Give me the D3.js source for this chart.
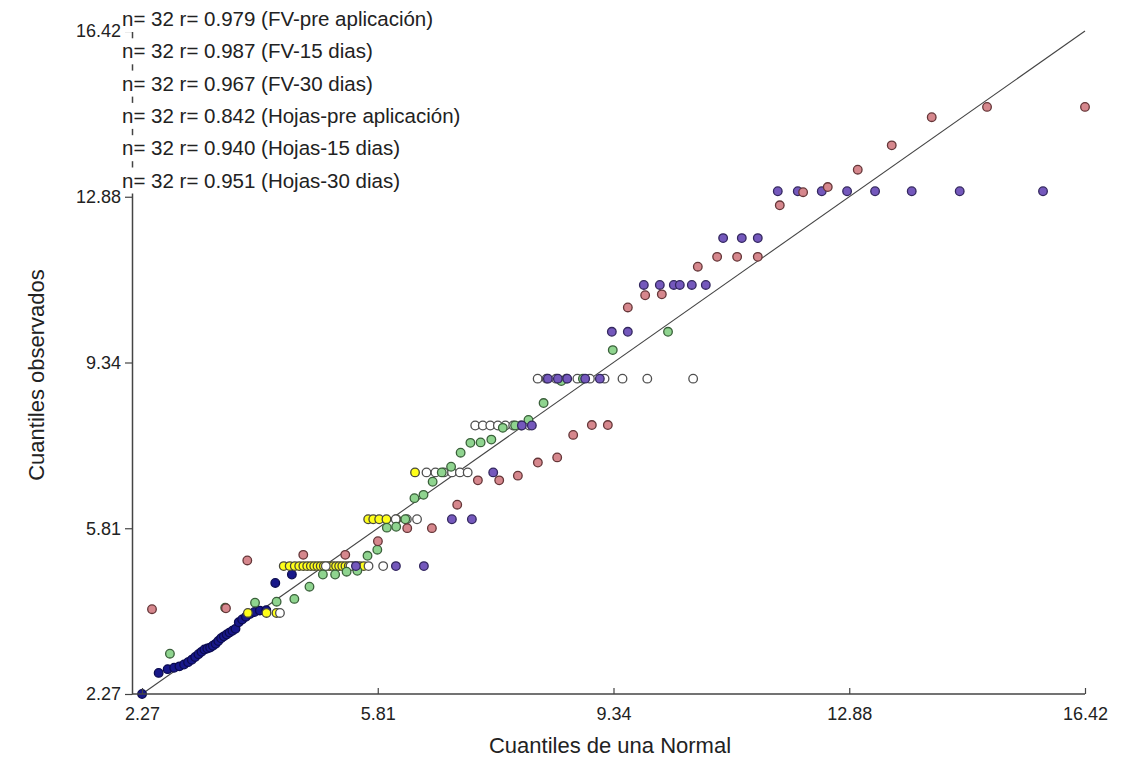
<!DOCTYPE html>
<html>
<head>
<meta charset="utf-8">
<script src="https://cdn.jsdelivr.net/npm/d3@7"></script>
<style>
  html, body { margin: 0; padding: 0; background: #ffffff; }
  svg { display: block; }
  text { font-family: "Liberation Sans", Arial, sans-serif; fill: #222; }
</style>
</head>
<body>
<svg id="chart" width="1133" height="773"></svg>
<script>
// Axis ticks (both axes share the same range)
const tickValues = [2.27, 5.8075, 9.345, 12.8825, 16.42];
const tickLabels = ["2.27", "5.81", "9.34", "12.88", "16.42"];

// Legend lines
const legendLabels = [
  "n= 32 r= 0.979 (FV-pre aplicación)",
  "n= 32 r= 0.987 (FV-15 dias)",
  "n= 32 r= 0.967 (FV-30 dias)",
  "n= 32 r= 0.842 (Hojas-pre aplicación)",
  "n= 32 r= 0.940 (Hojas-15 dias)",
  "n= 32 r= 0.951 (Hojas-30 dias)"
];

// FV-pre aplicación: normal quantiles (x) and observed quantiles (y)
const fvPreX = [2.271, 2.520, 2.655, 2.752, 2.832, 2.901, 2.961, 3.017, 3.068, 3.117, 3.163, 3.207, 3.250, 3.292, 3.333, 3.375,
                3.415, 3.457, 3.498, 3.540, 3.583, 3.627, 3.673, 3.722, 3.773, 3.829, 3.889, 3.958, 4.038, 4.135, 4.270, 4.519];
const fvPreY = [2.27, 2.72, 2.80, 2.83, 2.86, 2.90, 2.95, 3.00, 3.06, 3.12, 3.17, 3.22, 3.24, 3.26, 3.30, 3.34,
                3.40, 3.46, 3.50, 3.54, 3.58, 3.62, 3.66, 3.80, 3.86, 3.92, 3.98, 4.02, 4.05, 4.06, 4.64, 4.82];

// FV-15 dias
const fv15X = [2.689, 3.518, 3.966, 4.290, 4.556, 4.783, 4.984, 5.168, 5.340, 5.501, 5.654, 5.801, 5.944, 6.084, 6.221, 6.358,
               6.494, 6.631, 6.768, 6.908, 7.051, 7.198, 7.351, 7.512, 7.684, 7.868, 8.069, 8.296, 8.562, 8.886, 9.334, 10.163];
const fv15Y = [3.13, 4.11, 4.22, 4.24, 4.30, 4.56, 4.82, 4.82, 4.88, 4.90, 5.22, 5.35, 5.82, 5.84, 6.00, 6.45,
               6.52, 6.80, 7.00, 7.12, 7.42, 7.63, 7.64, 7.70, 7.95, 8.00, 8.12, 8.48, 8.95, 9.00, 9.61, 10.00];

// FV-30 dias
const fv30X = [2.42, 3.53, 3.85, 4.69, 5.32, 5.81, 6.25, 6.62, 7.00, 7.31, 7.63, 7.91, 8.21, 8.50, 8.74, 9.02,
               9.26, 9.56, 9.82, 10.07, 10.61, 10.90, 11.20, 11.51, 11.84, 12.19, 12.56, 13.01, 13.52, 14.12, 14.95, 16.42];
const fv30Y = [4.08, 4.10, 5.12, 5.24, 5.24, 5.53, 5.81, 5.81, 6.31, 6.83, 6.83, 6.93, 7.21, 7.32, 7.80, 8.01,
               8.01, 10.52, 10.78, 10.80, 11.39, 11.60, 11.60, 11.60, 12.70, 12.98, 13.09, 13.46, 13.98, 14.58, 14.80, 14.80];

// Hojas-pre aplicación
const hojasPreX = [3.859, 4.138, 4.288, 4.397, 4.486, 4.562, 4.629, 4.691, 4.749, 4.803, 4.854, 4.903, 4.951, 4.998, 5.044, 5.090,
                   5.136, 5.182, 5.228, 5.275, 5.323, 5.372, 5.423, 5.477, 5.535, 5.597, 5.664, 5.740, 5.829, 5.938, 6.088, 6.367];
const hojasPreY = [4, 4, 4, 5, 5, 5, 5, 5, 5, 5, 5, 5, 5, 5, 5, 5,
                   5, 5, 5, 5, 5, 5, 5, 5, 5, 5, 6, 6, 6, 6, 6, 7];

// Hojas-15 dias
const hojas15X = [4.340, 5.028, 5.399, 5.669, 5.889, 6.077, 6.244, 6.397, 6.539, 6.673, 6.800, 6.922, 7.040, 7.157, 7.270, 7.384,
                  7.496, 7.610, 7.723, 7.840, 7.958, 8.080, 8.207, 8.341, 8.483, 8.636, 8.803, 8.991, 9.211, 9.480, 9.852, 10.540];
const hojas15Y = [4, 5, 5, 5, 5, 6, 6, 6, 7, 7, 7, 7, 7, 7, 8, 8,
                  8, 8, 8, 8, 8, 8, 9, 9, 9, 9, 9, 9, 9, 9, 9, 9];

// Hojas-30 dias
const hojas30X = [5.48, 6.08, 6.50, 6.92, 7.22, 7.54, 7.97, 8.12, 8.36, 8.51, 8.65, 8.92, 9.14, 9.32, 9.56, 9.80,
                  10.04, 10.25, 10.34, 10.52, 10.73, 10.99, 11.27, 11.51, 11.81, 12.11, 12.47, 12.85, 13.27, 13.82, 14.54, 15.79];
const hojas30Y = [5, 5, 5, 6, 6, 7, 8, 8, 9, 9, 9, 9, 9, 10, 10, 11,
                  11, 11, 11, 11, 11, 12, 12, 12, 13, 13, 13, 13, 13, 13, 13, 13];

// Series in drawing order, with marker colours
const series = [
  { x: fvPreX,    y: fvPreY,    fill: "#18188a", stroke: "#0b0b50" },
  { x: hojasPreX, y: hojasPreY, fill: "#ffff1a", stroke: "#4a4a3a" },
  { x: hojas15X,  y: hojas15Y,  fill: "#ffffff", stroke: "#505050" },
  { x: fv15X,     y: fv15Y,     fill: "#8fd48f", stroke: "#3a603a" },
  { x: hojas30X,  y: hojas30Y,  fill: "#7458bc", stroke: "#33275f" },
  { x: fv30X,     y: fv30Y,     fill: "#d6878d", stroke: "#653638" }
];

const svg = d3.select("#chart");
const domain = [2.27, 16.42];
const x = d3.scaleLinear().domain(domain).range([142, 1085]);
const y = d3.scaleLinear().domain(domain).range([694, 31]);
const yAxisX = 132;

// Reference line y = x
svg.append("line")
  .attr("x1", x(domain[0])).attr("y1", y(domain[0]))
  .attr("x2", x(domain[1])).attr("y2", y(domain[1]))
  .attr("stroke", "#444").attr("stroke-width", 1.1);

// Points
series.forEach(s => {
  svg.append("g").selectAll("circle")
    .data(s.x.map((v, i) => [v, s.y[i]]))
    .join("circle")
    .attr("cx", d => x(d[0]))
    .attr("cy", d => y(d[1]))
    .attr("r", 4.3)
    .attr("fill", s.fill)
    .attr("stroke", s.stroke)
    .attr("stroke-width", 1.3);
});

// X axis: inward ticks, baseline extends left to the Y axis
const xAxis = svg.append("g")
  .attr("transform", `translate(0,${y(domain[0])})`)
  .call(d3.axisBottom(x).tickValues(tickValues).tickFormat((d, i) => tickLabels[i])
        .tickSizeInner(-6).tickSizeOuter(0).tickPadding(13));
xAxis.select(".domain").remove();
xAxis.append("line")
  .attr("x1", yAxisX).attr("x2", x(domain[1]))
  .attr("stroke", "#444").attr("stroke-width", 1.5);
xAxis.selectAll(".tick line").attr("stroke", "#444").attr("stroke-width", 1.2);
xAxis.selectAll(".tick text")
  .style("font-family", '"Liberation Sans", Arial, sans-serif')
  .style("font-size", "18px").attr("fill", "#222");

// Y axis
const yAxis = svg.append("g")
  .attr("transform", `translate(${yAxisX},0)`)
  .call(d3.axisLeft(y).tickValues(tickValues).tickFormat((d, i) => tickLabels[i])
        .tickSizeInner(7).tickSizeOuter(0).tickPadding(4));
yAxis.select(".domain").attr("stroke", "#444").attr("stroke-width", 1.5);
yAxis.selectAll(".tick line").attr("stroke", "#444").attr("stroke-width", 1.2);
yAxis.selectAll(".tick text")
  .style("font-family", '"Liberation Sans", Arial, sans-serif')
  .style("font-size", "18px").attr("fill", "#222");

// Axis titles
svg.append("text")
  .attr("x", 610).attr("y", 753)
  .attr("text-anchor", "middle")
  .style("font-size", "22px")
  .text("Cuantiles de una Normal");

svg.append("text")
  .attr("transform", "translate(44,375) rotate(-90)")
  .attr("text-anchor", "middle")
  .style("font-size", "22px")
  .text("Cuantiles observados");

// Legend with white backing boxes
const legend = svg.append("g");
legendLabels.forEach((label, i) => {
  const cy = 19 + i * 32.3;
  const g = legend.append("g");
  const t = g.append("text")
    .attr("x", 122).attr("y", cy + 7)
    .style("font-size", "20.5px")
    .text(label);
  const bb = t.node().getBBox();
  g.insert("rect", "text")
    .attr("x", bb.x - 1).attr("y", cy - 13)
    .attr("width", bb.width + 2).attr("height", 26)
    .attr("fill", "#ffffff");
});
</script>
</body>
</html>
